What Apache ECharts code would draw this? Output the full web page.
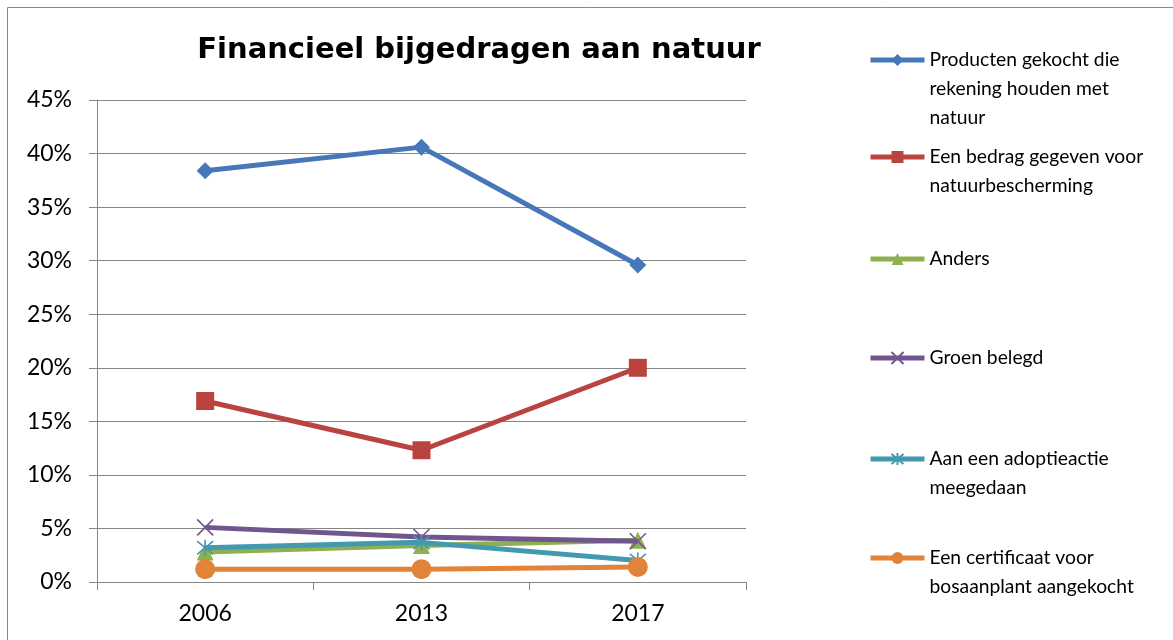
<!DOCTYPE html>
<html>
<head>
<meta charset="utf-8">
<script src="https://cdn.jsdelivr.net/npm/echarts@6/dist/echarts.min.js"></script>
<style>
  html, body { margin: 0; padding: 0; background: #fff; }
  #chart { width: 1173px; height: 640px; }
</style>
</head>
<body>
<div id="chart"></div>
<script>
// Survey years
const years = ['2006', '2013', '2017'];

// Share of respondents (%) per way of contributing
const producten   = [38.4, 40.6, 29.6];
const bedrag      = [16.9, 12.3, 20.0];
const anders      = [2.8, 3.4, 3.9];
const groen       = [5.1, 4.2, 3.8];
const adoptie     = [3.2, 3.7, 2.0];
const certificaat = [1.2, 1.2, 1.4];

// Series names and the way they break over lines in the legend
const seriesNames = [
  'Producten gekocht die rekening houden met natuur',
  'Een bedrag gegeven voor natuurbescherming',
  'Anders',
  'Groen belegd',
  'Aan een adoptieactie meegedaan',
  'Een certificaat voor bosaanplant aangekocht'
];
const legendLines = [
  ['Producten gekocht die', 'rekening houden met', 'natuur'],
  ['Een bedrag gegeven voor', 'natuurbescherming'],
  ['Anders'],
  ['Groen belegd'],
  ['Aan een adoptieactie', 'meegedaan'],
  ['Een certificaat voor', 'bosaanplant aangekocht']
];

const yTicks = { min: 0, max: 45, interval: 5 };

const colors = ['#4677B8', '#BA4340', '#8FB04E', '#71558F', '#4299B0', '#E2833A'];
const values = [producten, bedrag, anders, groen, adoptie, certificaat];

const crossPath = 'path://M0,0L10,10M10,0L0,10';
const starPath = 'path://M0,0L10,10M10,0L0,10M5,-1L5,11';
const symbols = ['diamond', 'rect', 'triangle', crossPath, starPath, 'circle'];
const symbolSizes = [17, 18, 17, 16, 16, 20];

const FONT = 'Lato, "Open Sans", sans-serif';
const LH = 29;
const iconY = [60, 157, 259, 358, 459, 558];

const series = values.map((v, i) => {
  const stroked = i === 3 || i === 4;
  return {
    name: seriesNames[i],
    type: 'line',
    data: v,
    symbol: symbols[i],
    symbolSize: symbolSizes[i],
    showAllSymbol: true,
    lineStyle: { color: colors[i], width: 5 },
    itemStyle: stroked
      ? { color: colors[i], borderColor: colors[i], borderWidth: 1.6 }
      : { color: colors[i], borderWidth: 0 },
    emphasis: { disabled: true },
    z: 2 + i
  };
});

// One legend block per series so each entry sits in its own slot.
// Leading empty lines keep the marker level with the first text line.
const legends = legendLines.map((lines, i) => {
  const n = lines.length;
  return {
    data: [seriesNames[i]],
    left: 868,
    top: iconY[i] - (2 * n - 1) * LH / 2,
    padding: 0,
    itemWidth: 54,
    itemHeight: 15,
    itemGap: 0,
    selectedMode: false,
    lineStyle: { width: 5 },
    formatter: () => '\n'.repeat(n - 1) + lines.join('\n'),
    textStyle: {
      fontFamily: FONT,
      fontSize: 19.3,
      color: '#000',
      lineHeight: LH
    }
  };
});

const chart = echarts.init(document.getElementById('chart'), null, { renderer: 'canvas' });
chart.setOption({
  animation: false,
  backgroundColor: '#fff',
  title: {
    text: 'Financieel bijgedragen aan natuur',
    left: 474,
    textAlign: 'center',
    top: 31,
    textStyle: {
      fontFamily: '"DejaVu Sans", sans-serif',
      fontWeight: 'bold',
      fontSize: 29,
      color: '#000'
    }
  },
  graphic: [{
    type: 'rect',
    shape: { x: 7.5, y: 7.5, width: 1180, height: 650 },
    style: { fill: 'none', stroke: '#888', lineWidth: 1 },
    silent: true,
    z: 0
  }],
  legend: legends,
  grid: { left: 97, right: 427, top: 100, bottom: 58, containLabel: false },
  xAxis: {
    type: 'category',
    data: years,
    boundaryGap: true,
    axisLine: { show: true, lineStyle: { color: '#868686', width: 1 } },
    axisTick: { show: true, length: 8, alignWithLabel: false, lineStyle: { color: '#868686' } },
    axisLabel: { fontFamily: FONT, fontSize: 23, color: '#000', margin: 20 },
    splitLine: { show: false }
  },
  yAxis: {
    type: 'value',
    min: yTicks.min,
    max: yTicks.max,
    interval: yTicks.interval,
    axisLine: { show: true, lineStyle: { color: '#868686', width: 1 } },
    axisTick: { show: true, length: 8, lineStyle: { color: '#868686' } },
    axisLabel: { fontFamily: FONT, fontSize: 23, color: '#000', margin: 25, formatter: '{value}%' },
    splitLine: { show: true, lineStyle: { color: '#868686', width: 1 } }
  },
  series: series
});
</script>
</body>
</html>
